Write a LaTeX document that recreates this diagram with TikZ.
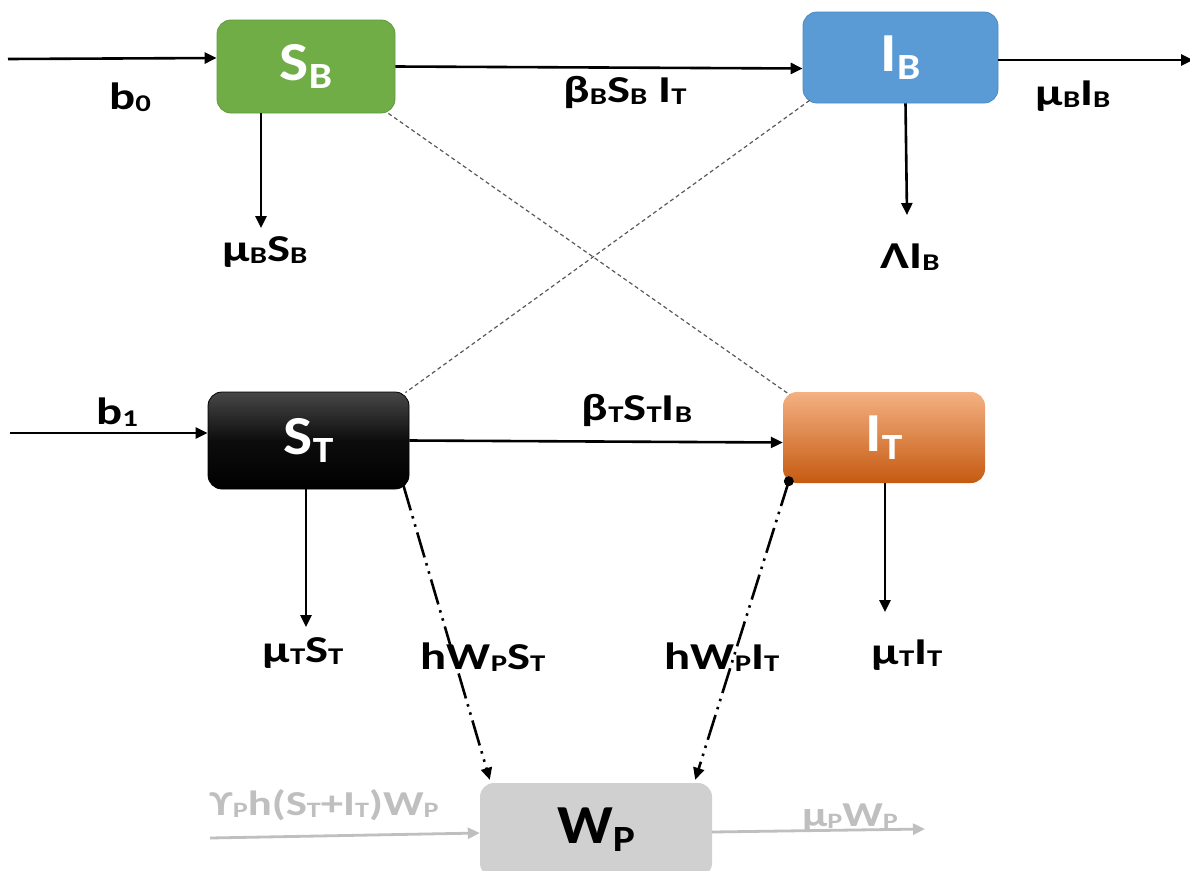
\documentclass[tikz,border=0pt]{standalone}
\usepackage{fontspec}
\setmainfont{Carlito}
\newfontfamily\labfont[FakeStretch=1.28]{Carlito}
\newfontfamily\boxfont[FakeStretch=1.12]{Carlito}
\usetikzlibrary{arrows.meta}

\definecolor{sbgreen}{HTML}{70AD47}
\definecolor{sbgreenline}{HTML}{5F9A3B}
\definecolor{ibblue}{HTML}{5B9BD5}
\definecolor{ibblueline}{HTML}{4A89C2}
\definecolor{itlight}{HTML}{F4B183}
\definecolor{itmid}{HTML}{ED7D31}
\definecolor{itdark}{HTML}{C55A11}
\definecolor{wpgray}{HTML}{D0D0D0}
\definecolor{faint}{HTML}{BFBFBF}

% subscripts for the flow labels and for the compartment names
\newcommand\lsub[1]{\raisebox{-2pt}{\fontsize{24}{24}\selectfont #1}}
\newcommand\bsub[1]{\raisebox{-8pt}{\fontsize{37}{37}\selectfont #1}}
\newcommand\gsub[1]{\raisebox{-2pt}{\fontsize{22}{22}\selectfont #1}}

\tikzset{
  comp/.style={rounded corners=14pt, inner sep=0pt, text=white,
    font=\boxfont\bfseries\fontsize{55}{55}\selectfont},
  lbl/.style={inner sep=0pt, font=\labfont\bfseries\fontsize{38}{44}\selectfont},
  glbl/.style={inner sep=0pt, text=faint,
    font=\labfont\bfseries\fontsize{35}{40}\selectfont},
  tip/.style={-{Triangle[length=12pt,width=11pt]}},
  flow/.style={tip, line width=2.6pt},
  cross/.style={line width=1.2pt, draw=black!65, dash pattern=on 4pt off 3pt},
  prey/.style={tip, line width=2.6pt,
    dash pattern=on 26pt off 6pt on 2.5pt off 6pt on 2.5pt off 6pt},
  faintflow/.style={tip, line width=2.8pt, draw=faint, fill=faint},
}

\begin{document}
\begin{tikzpicture}[x=1pt,y=-1pt]
\useasboundingbox (0,0) rectangle (1190,870);
\clip (0,0) rectangle (1190,870);

% compartments
\node[comp, fill=sbgreen, draw=sbgreenline, line width=0.8pt,
      minimum width=178pt, minimum height=93pt] (SB) at (306,66.5) {S\bsub{B}};
\node[comp, fill=ibblue, draw=ibblueline, line width=0.8pt,
      minimum width=195pt, minimum height=91pt] (IB) at (900.5,57.5) {I\bsub{B}};
\node[comp, top color=black!72, bottom color=black, middle color=black!95,
      draw=black, line width=0.8pt,
      minimum width=201pt, minimum height=97pt] (ST) at (308.5,440.5) {S\bsub{T}};
\node[comp, top color=itlight, middle color=itmid, bottom color=itdark,
      minimum width=202pt, minimum height=91pt] (IT) at (884,437.5) {I\bsub{T}};
\node[comp, fill=wpgray, text=black,
      minimum width=232pt, minimum height=94pt] (WP) at (596,830) {W\bsub{P}};

% free ends of the flows
\coordinate (inB) at (8,59);
\coordinate (outB) at (1193,60);
\coordinate (dSB) at (261,228);
\coordinate (dIB) at (907,215);
\coordinate (inT) at (10,433);
\coordinate (dST) at (306,627);
\coordinate (dIT) at (885,612);
\coordinate (inP) at (210,838);
\coordinate (outP) at (925,829);

% births, infections and deaths
\draw[flow] (inB) -- ([yshift=8.5pt]SB.west);
\draw[flow] (SB.east) -- ([yshift=-11pt]IB.west);
\draw[flow] ([yshift=-2.5pt]IB.east) -- (outB);
\draw[flow] ([xshift=-45pt]SB.south) -- (dSB);
\draw[flow] ([xshift=5pt]IB.south) -- (dIB);
\draw[flow] (inT) -- ([yshift=7.5pt]ST.west);
\draw[flow] (ST.east) -- ([yshift=-5pt]IT.west);
\draw[flow] ([xshift=-2.5pt]ST.south) -- (dST);
\draw[flow] ([xshift=1pt]IT.south) -- (dIT);

% cross transmission links
\draw[cross] ([xshift=-7pt]SB.south east) -- ([xshift=7pt,yshift=-3pt]IT.north west);
\draw[cross] ([xshift=7pt,yshift=3pt]IB.south west) -- ([xshift=-4pt,yshift=-1pt]ST.north east);

% predation on the tick stages
\draw[prey] ([xshift=-6pt,yshift=4pt]ST.south east) -- ([xshift=10pt,yshift=3pt]WP.north west);
\draw[prey] ([xshift=6pt,yshift=2pt]IT.south west) -- ([xshift=-17pt,yshift=3pt]WP.north east);
\fill ([xshift=6pt,yshift=2pt]IT.south west) circle (5pt);

% predator recruitment and death
\draw[faintflow] (inP) -- ([yshift=-3pt]WP.west);
\draw[faintflow] ([yshift=-2pt]WP.east) -- (outP);

% rate labels
\node[lbl] (lb0) at (130,97) {b\lsub{0}};
\node[lbl] (lbeB) at (625,92) {β\lsub{B}S\lsub{B} I\lsub{T}};
\node[lbl] (lmuIB) at (1073,96) {μ\lsub{B}I\lsub{B}};
\node[lbl] (lmuSB) at (265,252) {μ\lsub{B}S\lsub{B}};
\node[lbl] (llamB) at (910,257) {ΛI\lsub{B}};
\node[lbl] (lb1) at (117,412) {b\lsub{1}};
\node[lbl] (lbeT) at (637,410) {β\lsub{T}S\lsub{T}I\lsub{B}};
\node[lbl] (lmuST) at (303,653) {μ\lsub{T}S\lsub{T}};
\node[lbl] (lhS) at (483,657) {hW\lsub{P}S\lsub{T}};
\node[lbl] (lhI) at (722,657) {hW\lsub{P}I\lsub{T}};
\node[lbl] (lmuIT) at (907,655) {μ\lsub{T}I\lsub{T}};
\node[glbl] (lgam) at (324,805) {ϒ\gsub{P}h(S\gsub{T}+I\gsub{T})W\gsub{P}};
\node[glbl] (lmuP) at (850,818) {μ\gsub{P}W\gsub{P}};
\end{tikzpicture}
\end{document}
